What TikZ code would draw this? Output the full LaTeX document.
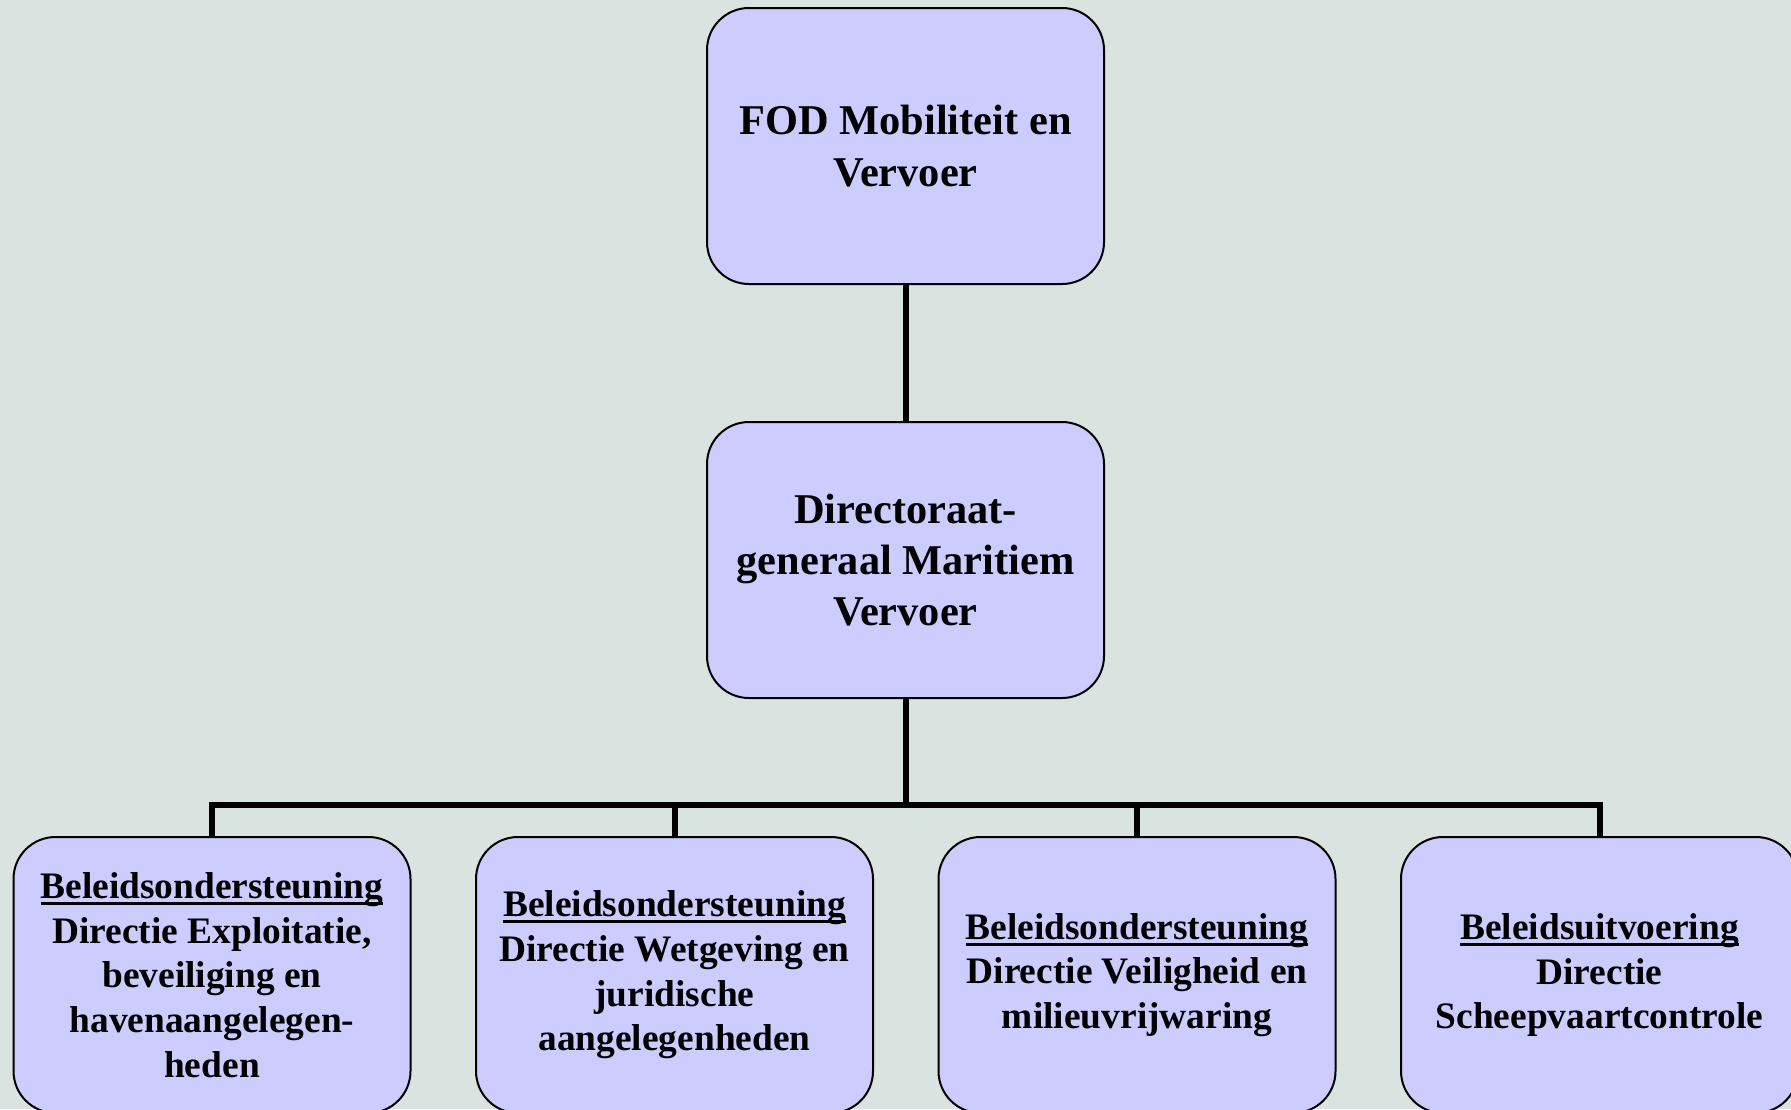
\documentclass[tikz,border=0pt]{standalone}
\usepackage{fontspec}
\setmainfont{Liberation Serif}
\definecolor{bgcol}{RGB}{217,227,224}
\definecolor{boxcol}{RGB}{204,204,255}
\newcommand\myul[1]{\setbox0\hbox{#1}\rlap{\rule[-3.2pt]{\wd0}{1.5pt}}\box0}
\begin{document}
\begin{tikzpicture}[x=0.5pt,y=-0.5pt,
  orgbox/.style={draw=black, line width=1pt, fill=boxcol, rectangle,
    rounded corners=21pt, minimum width=198.5pt, minimum height=138pt,
    inner sep=0pt, align=center},
  bigtext/.style={font=\fontsize{21.2}{25.7}\selectfont\bfseries},
  smalltext/.style={font=\fontsize{18.7}{22.3}\selectfont\bfseries},
  conn/.style={line width=3pt, line join=miter}]
\useasboundingbox (0,0) rectangle (1791,1109);
\clip (0,0) rectangle (1791,1109);
\fill[bgcol] (0,0) rectangle (1791,1109);
\node[orgbox, bigtext] (top) at (905.5,146) {FOD Mobiliteit en\\Vervoer};
\node[orgbox, bigtext] (mid) at (905.5,560) {Directoraat-\\generaal Maritiem\\Vervoer};
\node[orgbox, smalltext] (b1) at (212,975) {\myul{Beleidsondersteuning}\\Directie Exploitatie,\\beveiliging en\\havenaangelegen-\\heden};
\node[orgbox, smalltext] (b2) at (674.5,975) {\myul{Beleidsondersteuning}\\Directie Wetgeving en\\juridische\\aangelegenheden};
\node[orgbox, smalltext] (b3) at (1137,975) {\myul{Beleidsondersteuning}\\Directie Veiligheid en\\milieuvrijwaring};
\node[orgbox, smalltext] (b4) at (1599.5,975) {\myul{Beleidsuitvoering}\\Directie\\Scheepvaartcontrole};
\coordinate (bar) at (905.5,805);
\draw[conn] (top) -- (mid);
\draw[conn] (mid.south) -- (bar);
\draw[conn] (b1.north) |- (bar);
\draw[conn] (b4.north) |- (bar);
\draw[conn] (b2.north) -- (b2.north |- bar);
\draw[conn] (b3.north) -- (b3.north |- bar);
\end{tikzpicture}
\end{document}
